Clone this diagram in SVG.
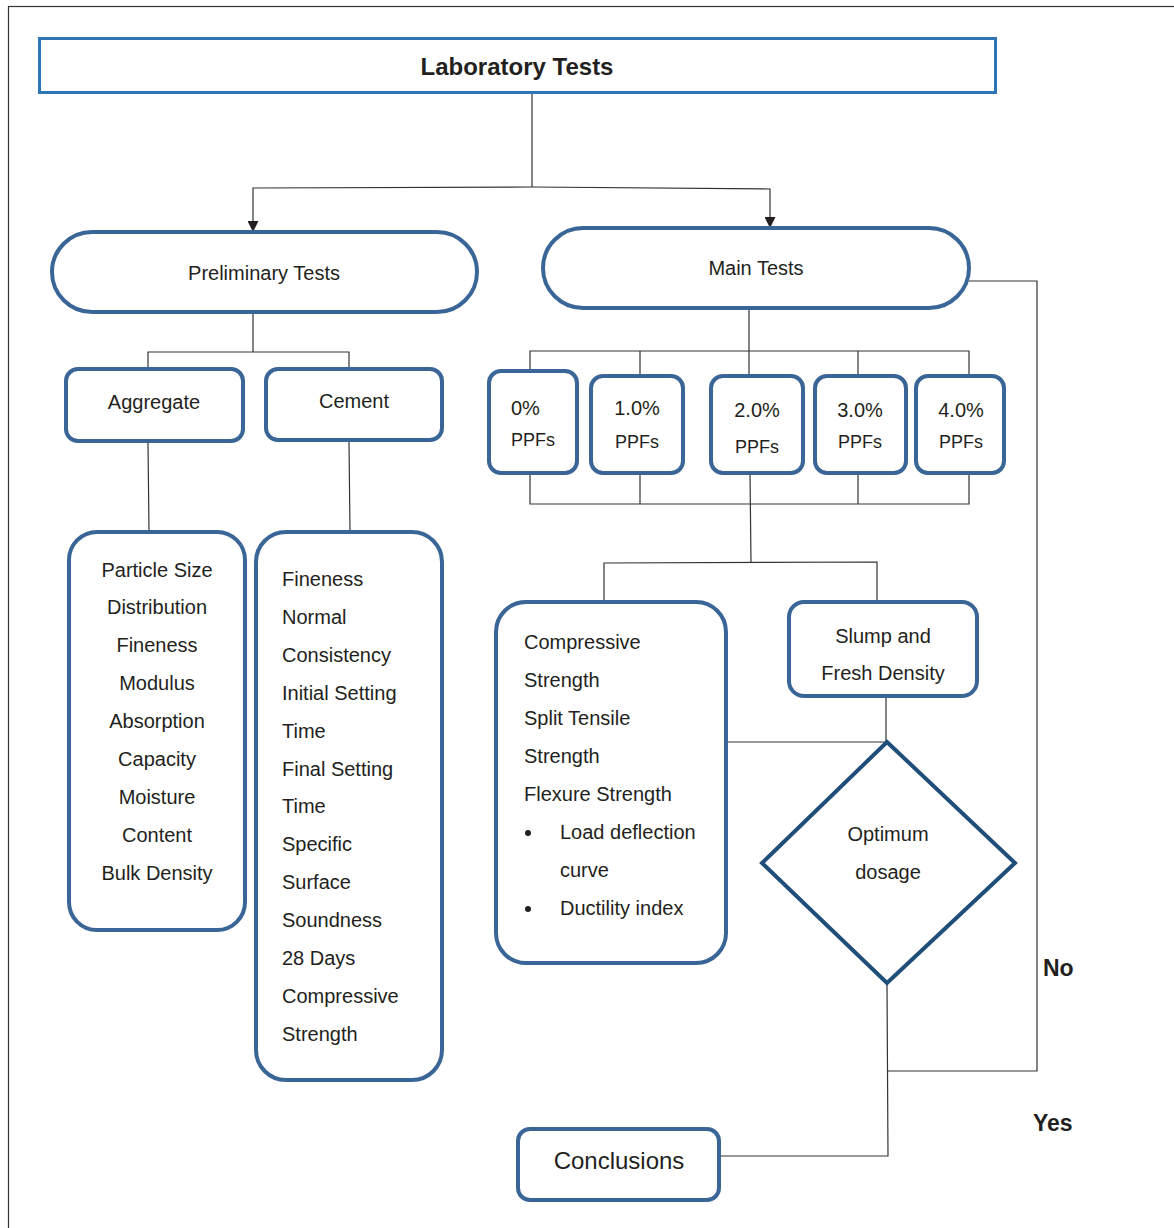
<svg xmlns="http://www.w3.org/2000/svg" width="1174" height="1228" viewBox="0 0 1174 1228">
<style>
text{font-family:"Liberation Sans",Arial,sans-serif;fill:#231f20;font-size:20px}
.c{text-anchor:middle}
.b{font-weight:bold}
.big{font-size:24px}
.yn{font-size:23px;font-weight:bold}
.sm{font-size:18px}
.node{fill:#fff;stroke:#3a6597;stroke-width:4}
.conn{fill:none;stroke:#333;stroke-width:1.2}
</style>
<defs>
<marker id="arr" viewBox="0 0 10 10" refX="10" refY="5" markerWidth="11" markerHeight="11" markerUnits="userSpaceOnUse" orient="auto">
<path d="M0,0 L10,5 L0,10 Z" fill="#231f20"/>
</marker>
</defs>
<rect x="0" y="0" width="1174" height="1228" fill="#fff"/>
<rect x="8.5" y="6.5" width="1200" height="1260" fill="none" stroke="#333" stroke-width="1.2"/>

<g id="connectors">
<path class="conn" d="M532,92 L532,187"/>
<path class="conn" d="M532,187 L253,188 L253,232" marker-end="url(#arr)"/>
<path class="conn" d="M532,187 L770,189 L770,228" marker-end="url(#arr)"/>
<path class="conn" d="M253,312 L253,352 M148,369 L148,352 L349,352 L349,369"/>
<path class="conn" d="M148,443 L149,532 M349,442 L350,532"/>
<path class="conn" d="M749,308 L749,376 M530,371 L530,351 L969,351 L969,376 M640,351 L640,376 M858,351 L858,376"/>
<path class="conn" d="M530,473 L530,504 L969,504 L969,473 M640,473 L640,504 M858,473 L858,504 M750,473 L751,562"/>
<path class="conn" d="M604,602 L604,563 L877,562 L877,601"/>
<path class="conn" d="M886,698 L886,742 M726,742 L886,742"/>
<path class="conn" d="M969,281 L1037,281 L1037,1071 L887,1071"/>
<path class="conn" d="M887,985 L888,1156 L719,1156"/>
</g>

<g id="laboratory-tests">
<rect x="39.5" y="38.5" width="956" height="54" fill="#fff" stroke="#2e75b6" stroke-width="3"/>
<text class="c b big" x="517" y="75">Laboratory Tests</text>
</g>

<g id="preliminary-tests">
<rect class="node" x="52" y="232" width="425" height="80" rx="40"/>
<text class="c" x="264" y="280">Preliminary Tests</text>
</g>

<g id="main-tests">
<rect class="node" x="543" y="228" width="426" height="80" rx="40"/>
<text class="c" x="756" y="275">Main Tests</text>
</g>

<g id="aggregate">
<rect class="node" x="66" y="369" width="177" height="72" rx="12"/>
<text class="c" x="154" y="409">Aggregate</text>
</g>

<g id="cement">
<rect class="node" x="266" y="369" width="176" height="71" rx="12"/>
<text class="c" x="354" y="408">Cement</text>
</g>

<g id="aggregate-tests">
<rect class="node" x="69" y="532" width="176" height="398" rx="28"/>
<text class="c" x="157" y="577">Particle Size</text>
<text class="c" x="157" y="614">Distribution</text>
<text class="c" x="157" y="652">Fineness</text>
<text class="c" x="157" y="690">Modulus</text>
<text class="c" x="157" y="728">Absorption</text>
<text class="c" x="157" y="766">Capacity</text>
<text class="c" x="157" y="804">Moisture</text>
<text class="c" x="157" y="842">Content</text>
<text class="c" x="157" y="880">Bulk Density</text>
</g>

<g id="cement-tests">
<rect class="node" x="256" y="532" width="186" height="548" rx="30"/>
<text x="282" y="586">Fineness</text>
<text x="282" y="624">Normal</text>
<text x="282" y="662">Consistency</text>
<text x="282" y="700">Initial Setting</text>
<text x="282" y="738">Time</text>
<text x="282" y="776">Final Setting</text>
<text x="282" y="813">Time</text>
<text x="282" y="851">Specific</text>
<text x="282" y="889">Surface</text>
<text x="282" y="927">Soundness</text>
<text x="282" y="965">28 Days</text>
<text x="282" y="1003">Compressive</text>
<text x="282" y="1041">Strength</text>
</g>

<g id="ppf-0">
<rect class="node" x="489" y="371" width="88" height="102" rx="12"/>
<text x="511" y="415">0%</text>
<text class="sm" x="511" y="446">PPFs</text>
</g>
<g id="ppf-1">
<rect class="node" x="591" y="376" width="92" height="97" rx="12"/>
<text class="c" x="637" y="415">1.0%</text>
<text class="c sm" x="637" y="448">PPFs</text>
</g>
<g id="ppf-2">
<rect class="node" x="711" y="376" width="92" height="97" rx="12"/>
<text class="c" x="757" y="417">2.0%</text>
<text class="c sm" x="757" y="453">PPFs</text>
</g>
<g id="ppf-3">
<rect class="node" x="815" y="376" width="91" height="97" rx="12"/>
<text class="c" x="860" y="417">3.0%</text>
<text class="c sm" x="860" y="448">PPFs</text>
</g>
<g id="ppf-4">
<rect class="node" x="916" y="376" width="88" height="97" rx="12"/>
<text class="c" x="961" y="417">4.0%</text>
<text class="c sm" x="961" y="448">PPFs</text>
</g>

<g id="hardened-tests">
<rect class="node" x="496" y="602" width="230" height="361" rx="30"/>
<text x="524" y="649">Compressive</text>
<text x="524" y="687">Strength</text>
<text x="524" y="725">Split Tensile</text>
<text x="524" y="763">Strength</text>
<text x="524" y="801">Flexure Strength</text>
<circle cx="528" cy="833" r="3" fill="#231f20"/>
<text x="560" y="839">Load deflection</text>
<text x="560" y="877">curve</text>
<circle cx="528" cy="909" r="3" fill="#231f20"/>
<text x="560" y="915">Ductility index</text>
</g>

<g id="fresh-tests">
<rect class="node" x="789" y="602" width="188" height="94" rx="15"/>
<text class="c" x="883" y="643">Slump and</text>
<text class="c" x="883" y="680">Fresh Density</text>
</g>

<g id="optimum-dosage">
<polygon points="887,742 1015,863 887,983 762,863" fill="#fff" stroke="#1f4e79" stroke-width="4"/>
<text class="c" x="888" y="841">Optimum</text>
<text class="c" x="888" y="879">dosage</text>
</g>

<g id="conclusions">
<rect class="node" x="518" y="1129" width="201" height="71" rx="12"/>
<text class="c big" x="619" y="1169">Conclusions</text>
</g>

<text class="yn" x="1043" y="976">No</text>
<text class="yn" x="1033" y="1131">Yes</text>
</svg>
